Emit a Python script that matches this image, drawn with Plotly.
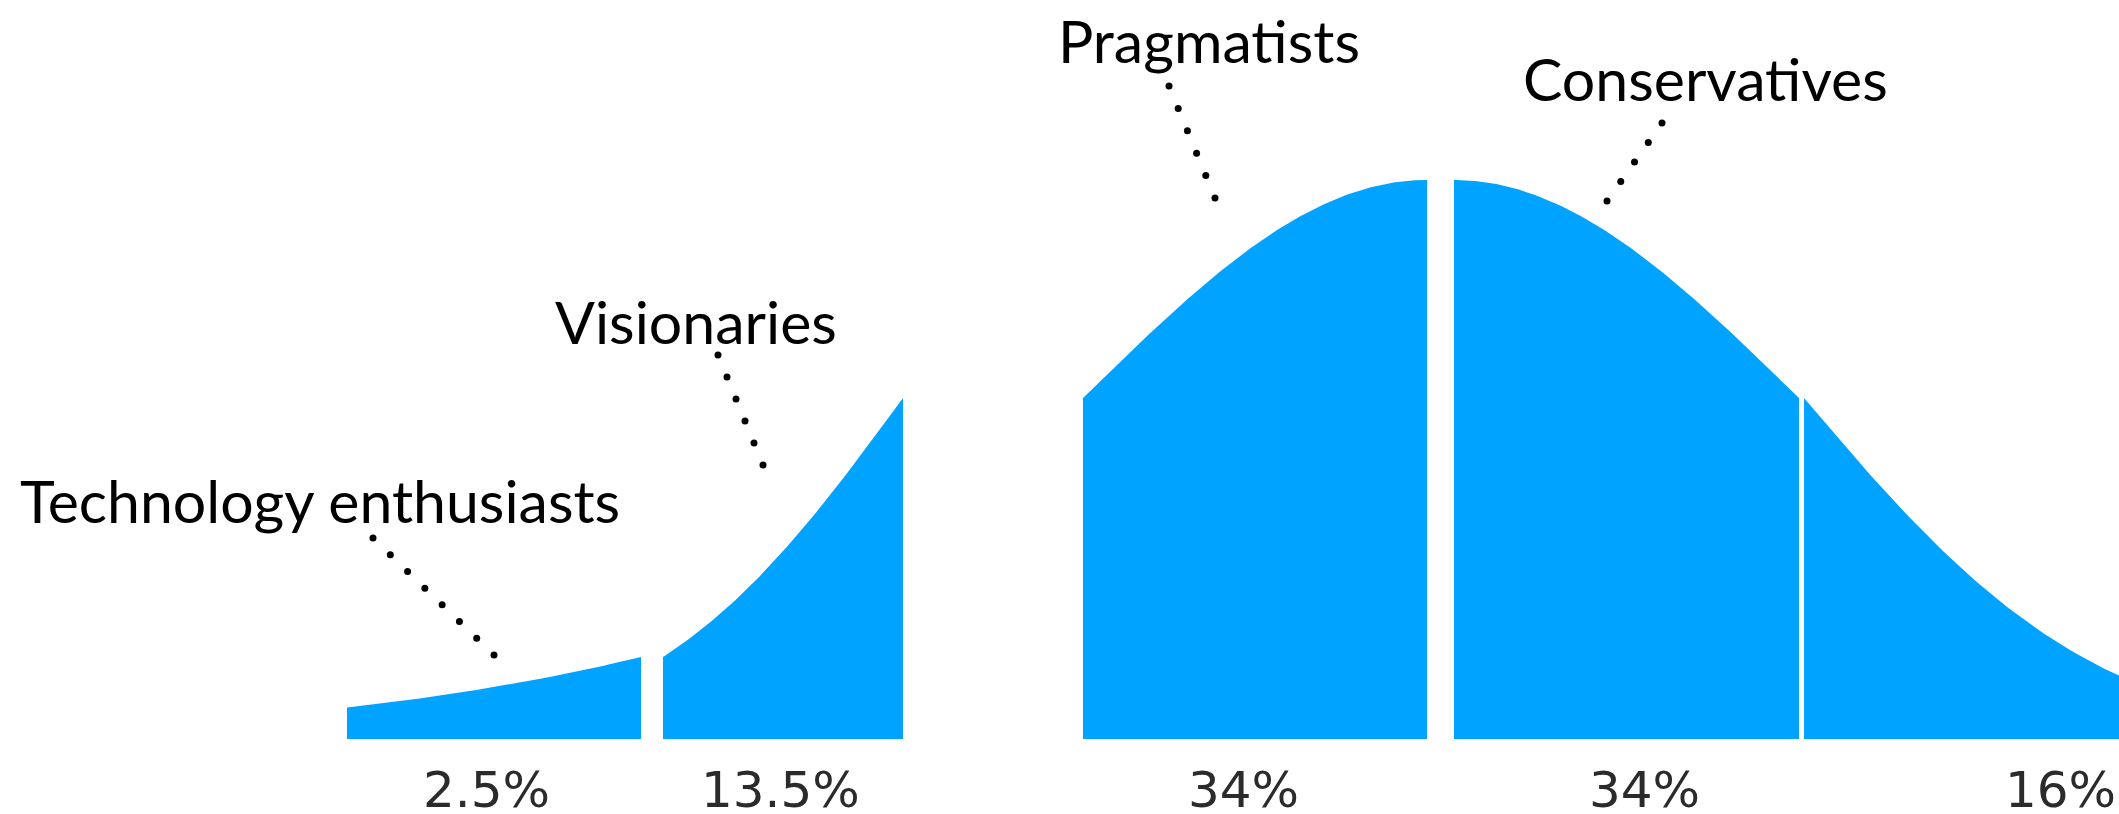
import numpy as np
import plotly.graph_objects as go
from statistics import NormalDist

# Adoption segments, left to right
segment_names = ["Technology enthusiasts", "Visionaries", "Pragmatists", "Conservatives", ""]
shares = [2.5, 13.5, 34, 34, 16]          # percent of adopters in each segment
share_labels = ["2.5%", "13.5%", "34%", "34%", "16%"]

# Canvas geometry (pixels)
W, H = 2119, 814
BASE_PX, PEAK_PX = 739, 180               # baseline row and row of the curve's peak
UNIT = BASE_PX - PEAK_PX                  # pixels per unit of relative density

# Horizontal placement of each curve piece (left px, right px); the gap after
# the second piece is the chasm
piece_extent = [(347, 641), (663, 903), (1083, 1427), (1454, 1799), (1804, 2440)]
tail_window = (-2.4, 3.2)                 # visible part of the open tails (in sigma)

BLUE = "#00A3FF"

# Segment boundaries on the standard normal, derived from cumulative shares
nd = NormalDist()
cum = np.cumsum([0] + shares) / 100.0
z_bounds = [tail_window[0]] + [nd.inv_cdf(c) for c in cum[1:-1]] + [tail_window[1]]


def ypix(py):
    """Pixel row -> y data value (relative density units)."""
    return (BASE_PX - py) / UNIT


fig = go.Figure()

for i in range(len(shares)):
    z0, z1 = z_bounds[i], z_bounds[i + 1]
    x0, x1 = piece_extent[i]
    z = np.linspace(z0, z1, 120)
    dens = np.exp(-0.5 * z ** 2)          # density relative to the peak
    xs = x0 + (z - z0) / (z1 - z0) * (x1 - x0)
    px = np.concatenate([[x0], xs, [x1, x0]])
    py = np.concatenate([[0], dens, [0, 0]])
    fig.add_trace(go.Scatter(
        x=px, y=py, mode="lines", fill="toself", fillcolor=BLUE,
        line=dict(width=0, color=BLUE), hoverinfo="skip", showlegend=False,
    ))

# Dotted leaders from each name toward its piece: (start px, end px, dot count)
leaders = [
    ((373, 538), (494, 655), 8),
    ((718, 355), (763, 465), 6),
    ((1169, 86), (1215, 198), 6),
    ((1662, 123), (1607, 201), 5),
]
for (sx, sy), (ex, ey), n in leaders:
    fig.add_trace(go.Scatter(
        x=np.linspace(sx, ex, n), y=ypix(np.linspace(sy, ey, n)),
        mode="markers", marker=dict(size=7, color="black"),
        hoverinfo="skip", showlegend=False,
    ))

# Segment names: (left px, baseline px)
name_pos = [(18, 521), (553, 342), (1056, 61), (1521, 99)]
annotations = []
for name, (lx, by) in zip(segment_names, name_pos):
    annotations.append(dict(
        text=name, x=lx, y=ypix(by - 21), xref="x", yref="y",
        xanchor="left", yanchor="middle", showarrow=False,
        font=dict(family="Lato", size=59, color="black"),
    ))

# Share labels under the pieces: (center px)
share_x = [486, 780, 1243, 1644, 2060]
for lab, cx in zip(share_labels, share_x):
    annotations.append(dict(
        text=lab, x=cx, y=ypix(790), xref="x", yref="y",
        xanchor="center", yanchor="middle", showarrow=False,
        font=dict(family="DejaVu Sans", size=50, color="#2b2b2b"),
    ))

fig.update_layout(
    width=W, height=H, autosize=False,
    margin=dict(l=0, r=0, t=0, b=0),
    paper_bgcolor="white", plot_bgcolor="white",
    xaxis=dict(range=[0, W], visible=False, fixedrange=True),
    yaxis=dict(range=[ypix(H), ypix(0)], visible=False, fixedrange=True),
    annotations=annotations,
)

fig.write_html("out.html", config={"displayModeBar": False})
